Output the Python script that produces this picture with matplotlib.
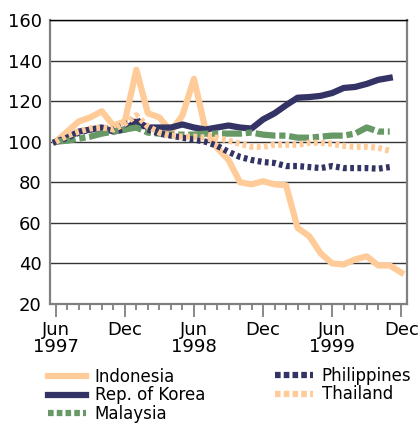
import numpy as np
import matplotlib
matplotlib.use('Agg')
import matplotlib.pyplot as plt
from matplotlib.lines import Line2D

# Monthly index values, Jun 1997 = 100
indonesia = [100, 105, 110, 112, 115, 108, 110, 135.5, 114, 112, 105, 113, 131,
             106, 97, 91, 80, 79, 80.5, 79, 78.5, 57.5, 53.5, 45, 40, 39.5, 42,
             43.5, 39, 39, 35.5]
korea = [100, 102, 105, 106, 107, 105, 106, 110, 107, 107, 107, 108.5, 107,
         106, 107, 108, 107, 106.5, 111, 114, 118, 121.7, 122, 122.6, 124,
         126.5, 127, 128.5, 130.5, 131.5]
malaysia = [100, 100.5, 101.5, 102.5, 104, 105, 106, 107, 104.5, 104, 103.5,
            103.5, 103.5, 104, 104, 104, 104, 104.5, 103.5, 103, 103, 102, 102,
            102.5, 103, 103, 104, 107, 105, 105]
philippines = [100, 102, 104.5, 106, 107, 106, 108.5, 111, 106, 104, 103, 102,
               101, 100, 98, 95, 92.5, 91, 90, 89.5, 88, 88, 87.5, 87, 88, 87,
               87, 87, 86.7, 87.5]
thailand = [100, 103, 105, 106.5, 107, 106, 109, 113, 107.5, 104.5, 103, 102.5,
            102.5, 102, 102, 100.5, 99, 97.5, 97.5, 98.5, 98.5, 98.5, 99.5, 99.5,
            99, 98, 97.5, 97.5, 97, 95.5]

tick_months = [0, 6, 12, 18, 24, 30]
tick_labels = ['Jun\n1997', 'Dec', 'Jun\n1998', 'Dec', 'Jun\n1999', 'Dec']

orange = '#FFCC99'
navy = '#333366'
green = '#669966'

plt.rcParams['font.family'] = 'DejaVu Sans'
fig = plt.figure(figsize=(4.2, 4.26), dpi=100)
ax = fig.add_axes([50/420, 1-304/426, 357/420, 284/426])

lw = 4.5
l1, = ax.plot(range(len(indonesia)), indonesia, color=orange, lw=lw)
l2, = ax.plot(range(len(korea)), korea, color=navy, lw=lw)
l3, = ax.plot(range(len(malaysia)), malaysia, color=green, lw=lw,
              linestyle=(0, (3.2, 0.6, 1.0, 0.6)), dash_capstyle='butt')
l4, = ax.plot(range(len(philippines)), philippines, color=navy, lw=lw,
              linestyle=(0, (0.6, 0.55)), dash_capstyle='butt')
l5, = ax.plot(range(len(thailand)), thailand, color=orange, lw=lw,
              linestyle=(0, (0.6, 0.55)), dash_capstyle='butt')

ax.set_xlim(-0.5, 30.5)
ax.set_ylim(20, 160)
ax.set_yticks(range(20, 161, 20))
ax.yaxis.grid(True, color='#333333', lw=1.0)
ax.set_axisbelow(True)
ax.tick_params(axis='y', length=0, labelsize=13, pad=6)

ax.set_xticks(tick_months)
ax.set_xticklabels(tick_labels)
ax.set_xticks(range(31), minor=True)
ax.tick_params(axis='x', which='major', length=9, width=1.3, color='#808080',
               labelsize=13, pad=3)
ax.tick_params(axis='x', which='minor', length=4.5, width=1.3, color='#808080')
for lab in ax.get_xticklabels():
    lab.set_verticalalignment('top')
    lab.set_linespacing(0.95)

for side in ['left', 'bottom', 'right']:
    ax.spines[side].set_color('#808080')
    ax.spines[side].set_linewidth(1.6)
ax.spines['top'].set_color('black')
ax.spines['top'].set_linewidth(1.0)

def handle(color, ls):
    return Line2D([], [], color=color, lw=lw, linestyle=ls, dash_capstyle='butt')

leg_kw = dict(frameon=False, fontsize=12, handlelength=2.3, handletextpad=0.5,
              labelspacing=0.02, borderpad=0, borderaxespad=0, loc='upper left')
fig.legend([handle(orange, '-'), handle(navy, '-'), handle(green, (0, (0.9, 0.5)))],
           ['Indonesia', 'Rep. of Korea', 'Malaysia'],
           bbox_to_anchor=(48/420, 1-368/426), **leg_kw)
fig.legend([handle(navy, (0, (0.9, 0.5))), handle(orange, (0, (0.9, 0.5)))],
           ['Philippines', 'Thailand'],
           bbox_to_anchor=(275/420, 1-367/426), **leg_kw)

fig.savefig('out.png', dpi=100)
